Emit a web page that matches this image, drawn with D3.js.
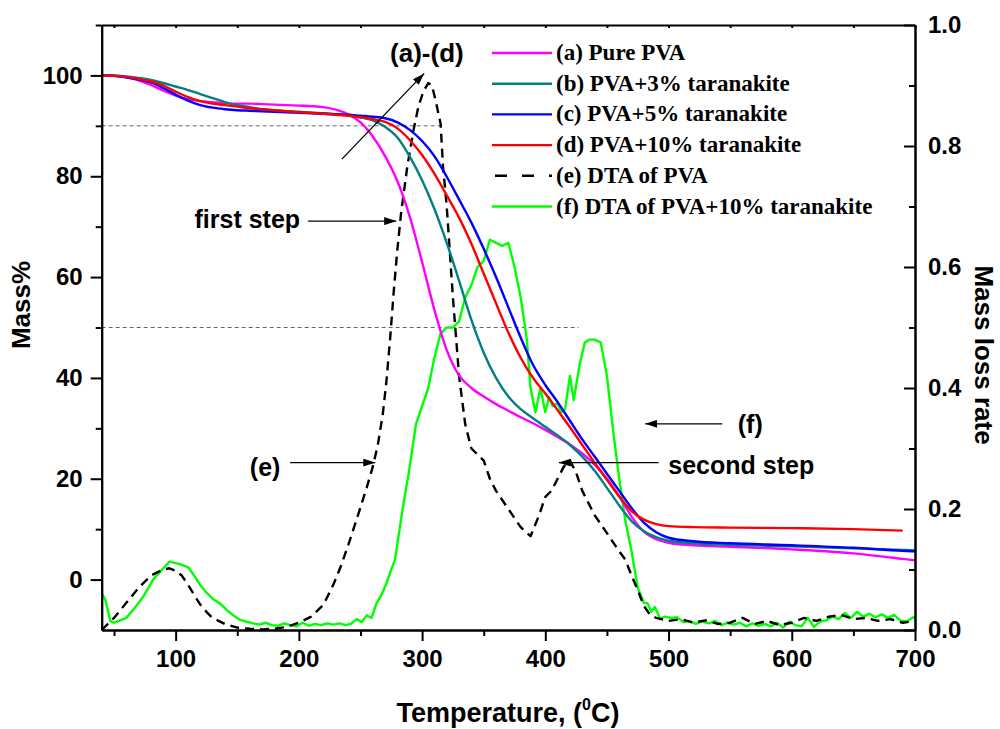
<!DOCTYPE html>
<html>
<head>
<meta charset="utf-8">
<script src="https://cdn.jsdelivr.net/npm/d3@7"></script>
<style>
  body { margin: 0; background: #fff; }
  text { font-family: "Liberation Sans", Arial, sans-serif; font-weight: bold; }
</style>
</head>
<body>
<svg id="chart" width="1000" height="729"></svg>
<script>
// ---- data ----
const tgaTemp = [40,50,60,70,80,90,100,110,120,130,140,150,160,170,180,190,200,210,220,230,240,250,260,270,280,290,300,310,320,330,340,350,360,370,380,390,400,410,420,430,440,450,460,470,480,490,500,520,550,600,650,690,700];
const massPurePVA = [100,99.9,99.6,99.0,98.1,97.0,96.0,95.3,94.9,94.7,94.5,94.4,94.4,94.3,94.2,94.1,94.0,93.9,93.7,93.2,92.3,90.7,87.9,84.0,79.0,72.0,63.0,53.5,45.5,40.5,38.0,36.3,34.8,33.5,32.2,31.0,29.7,28.3,26.8,25.0,22.8,20.0,16.5,12.5,9.5,8.0,7.3,6.8,6.5,6.0,5.2,4.1,3.8];
const massPVA3 = [100,100,99.8,99.5,99.1,98.5,97.8,97.1,96.3,95.5,94.7,94.1,93.7,93.3,93.1,92.9,92.8,92.6,92.5,92.3,92.1,91.7,91.1,89.8,87.7,83.9,79.2,73.5,66.8,59.3,51.5,45.0,40.0,36.3,33.8,32.0,30.3,28.6,26.7,24.4,21.6,18.2,14.7,11.6,9.6,8.4,7.7,7.2,6.9,6.6,6.2,5.9,5.8];
const massPVA5 = [100,99.9,99.6,99.2,98.6,97.5,96.2,95.0,94.1,93.6,93.3,93.1,93.0,92.9,92.8,92.7,92.6,92.5,92.4,92.3,92.2,92.0,91.8,91.5,90.7,89.2,87.0,84.0,79.9,75.4,70.8,65.6,60.0,54.0,48.0,42.6,38.6,35.2,31.5,27.8,24.4,21.0,17.6,14.2,11.3,9.4,8.3,7.6,7.2,6.8,6.3,5.7,5.6];
const massPVA10 = [100,99.9,99.7,99.3,98.8,98.0,96.8,95.7,94.9,94.4,94.1,93.8,93.5,93.3,93.1,92.9,92.7,92.6,92.4,92.2,92.0,91.7,91.3,90.8,89.5,87.2,84.2,80.5,76.2,71.8,66.6,60.7,54.8,49.0,44.0,40.0,36.9,33.6,30.2,26.7,23.2,19.8,16.5,13.6,11.9,11.0,10.6,10.4,10.3,10.2,10.0,9.7,null];

// DTA curves: [temperature, mass loss rate]
const dtaPVA = [[40,0.0],[50,0.02],[60,0.045],[70,0.07],[80,0.09],[90,0.10],[95,0.102],[100,0.098],[105,0.09],[110,0.075],[115,0.058],[120,0.042],[125,0.03],[130,0.02],[140,0.01],[150,0.004],[160,0.002],[170,0.001],[180,0.002],[190,0.005],[200,0.012],[210,0.022],[220,0.042],[228,0.075],[234,0.105],[240,0.14],[248,0.19],[255,0.235],[260,0.27],[264,0.305],[268,0.355],[271,0.41],[274,0.48],[277,0.56],[280,0.63],[283,0.69],[288,0.766],[293,0.826],[297,0.865],[301,0.89],[305,0.904],[308,0.9],[311,0.875],[315,0.837],[317,0.766],[320,0.70],[325,0.55],[330,0.42],[335,0.34],[340,0.30],[345,0.29],[350,0.28],[355,0.25],[360,0.23],[370,0.20],[380,0.17],[388,0.155],[395,0.19],[400,0.22],[405,0.23],[410,0.25],[415,0.27],[420,0.28],[425,0.26],[430,0.23],[440,0.19],[450,0.16],[460,0.13],[465,0.116],[470,0.09],[475,0.066],[480,0.04],[485,0.025],[490,0.02],[500,0.015],[510,0.018],[520,0.012],[530,0.016],[540,0.01],[550,0.012],[560,0.02],[570,0.01],[580,0.015],[590,0.008],[600,0.012],[610,0.02],[620,0.015],[630,0.022],[640,0.025],[650,0.018],[660,0.02],[670,0.015],[680,0.018],[690,0.012],[700,0.015]];
const dtaPVA10 = [[40,0.06],[43,0.05],[47,0.015],[50,0.012],[55,0.016],[60,0.02],[65,0.032],[70,0.045],[74,0.056],[78,0.07],[82,0.084],[86,0.093],[90,0.102],[95,0.113],[101,0.11],[106,0.107],[110,0.104],[115,0.09],[120,0.074],[125,0.062],[131,0.05],[136,0.044],[142,0.032],[147,0.024],[152,0.017],[157,0.014],[163,0.011],[168,0.009],[173,0.012],[178,0.008],[183,0.007],[188,0.011],[193,0.008],[198,0.006],[203,0.012],[208,0.007],[213,0.01],[218,0.008],[223,0.011],[228,0.009],[233,0.011],[238,0.008],[242,0.01],[247,0.018],[251,0.013],[255,0.024],[259,0.02],[263,0.044],[267,0.058],[271,0.077],[275,0.1],[278,0.116],[282,0.17],[285,0.21],[290,0.27],[295,0.34],[300,0.37],[305,0.40],[310,0.45],[315,0.49],[320,0.50],[325,0.50],[330,0.51],[335,0.55],[340,0.57],[345,0.60],[350,0.61],[355,0.645],[360,0.64],[365,0.635],[370,0.64],[375,0.60],[380,0.55],[385,0.48],[388,0.40],[392,0.36],[396,0.40],[400,0.36],[403,0.385],[406,0.37],[410,0.375],[413,0.36],[416,0.365],[420,0.42],[423,0.38],[428,0.44],[432,0.475],[436,0.48],[440,0.48],[445,0.475],[450,0.42],[455,0.33],[460,0.25],[465,0.18],[470,0.13],[475,0.07],[480,0.045],[483,0.044],[486,0.03],[489,0.038],[493,0.019],[497,0.022],[502,0.02],[507,0.021],[512,0.013],[517,0.015],[522,0.01],[527,0.014],[533,0.011],[538,0.015],[543,0.008],[548,0.012],[553,0.009],[558,0.012],[563,0.006],[568,0.011],[573,0.007],[578,0.01],[583,0.006],[588,0.012],[593,0.004],[598,0.014],[603,0.008],[608,0.006],[613,0.02],[618,0.005],[623,0.014],[628,0.016],[633,0.022],[638,0.018],[643,0.028],[648,0.02],[653,0.03],[658,0.022],[663,0.027],[668,0.021],[673,0.026],[678,0.02],[683,0.025],[688,0.016],[693,0.014],[698,0.02],[700,0.022]];

const xMajor = [100,200,300,400,500,600,700];
const xMinor = [50,150,250,350,450,550,650];
const massMajor = [0,20,40,60,80,100];
const massMinor = [10,30,50,70,90,110];
const rateMajor = [0,0.2,0.4,0.6,0.8,1.0];
const rateMinor = [0.1,0.3,0.5,0.7,0.9];

const tgaSeries = [
  { label: '(a) Pure PVA', values: massPurePVA, color: '#ff00ff' },
  { label: '(b) PVA+3% taranakite', values: massPVA3, color: '#008080' },
  { label: '(c) PVA+5% taranakite', values: massPVA5, color: '#0000ff' },
  { label: '(d) PVA+10% taranakite', values: massPVA10, color: '#ff0000' }
];
const dtaSeries = [
  { label: '(e) DTA of PVA', values: dtaPVA, color: '#000000', dash: '9,6' },
  { label: '(f) DTA of PVA+10% taranakite', values: dtaPVA10, color: '#00ff00', dash: null }
];

// ---- layout ----
const svg = d3.select('#chart');
const plotLeft = 101.7, plotRight = 915, plotTop = 25, plotBottom = 630;

const x = d3.scaleLinear().domain([40, 700]).range([plotLeft, plotRight]);
const yMass = d3.scaleLinear().domain([-10, 110]).range([plotBottom, plotTop]);
const yRate = d3.scaleLinear().domain([0, 1]).range([plotBottom, plotTop]);

// reference dashed guides
const guides = [[90, 317], [50, 427]];
guides.forEach(([m, tEnd]) => {
  svg.append('line')
    .attr('x1', x(40)).attr('x2', x(tEnd))
    .attr('y1', yMass(m)).attr('y2', yMass(m))
    .attr('stroke', '#666').attr('stroke-width', 1).attr('stroke-dasharray', '4,3');
});

// DTA curves (drawn under the TGA curves)
const rateLine = d3.line().x(d => x(d[0])).y(d => yRate(d[1]));
dtaSeries.slice().reverse().forEach(s => {
  svg.append('path')
    .attr('d', rateLine(s.values))
    .attr('fill', 'none')
    .attr('stroke', s.color)
    .attr('stroke-width', 2.4)
    .attr('stroke-dasharray', s.dash)
    .attr('stroke-linejoin', 'round');
});

// TGA curves
const massLine = d3.line()
  .defined(d => d[1] != null)
  .x(d => x(d[0])).y(d => yMass(d[1]))
  .curve(d3.curveMonotoneX);
tgaSeries.forEach(s => {
  svg.append('path')
    .attr('d', massLine(tgaTemp.map((t, i) => [t, s.values[i]])))
    .attr('fill', 'none')
    .attr('stroke', s.color)
    .attr('stroke-width', 2.4);
});

// ---- axes ----
function styleAxis(g) {
  g.select('.domain').attr('stroke-width', 2);
  g.selectAll('.tick line').attr('stroke-width', 2);
  g.selectAll('text').attr('font-size', 24).attr('fill', '#000')
    .style('font-family', '"Liberation Sans", Arial, sans-serif').style('font-weight', 'bold');
}

svg.append('g').attr('transform', `translate(0,${plotBottom})`)
  .call(d3.axisBottom(x).tickValues(xMajor).tickSize(11).tickSizeOuter(0).tickPadding(9))
  .call(styleAxis);
svg.append('g').attr('transform', `translate(0,${plotBottom})`)
  .call(d3.axisBottom(x).tickValues(xMinor).tickSize(6).tickSizeOuter(0).tickFormat(''))
  .call(styleAxis);

// top frame with small inward ticks
svg.append('g').attr('transform', `translate(0,${plotTop})`)
  .call(d3.axisBottom(x).tickValues(xMajor.concat(xMinor)).tickSize(3).tickSizeOuter(0).tickFormat(''))
  .call(styleAxis);

svg.append('g').attr('transform', `translate(${plotLeft},0)`)
  .call(d3.axisLeft(yMass).tickValues(massMajor).tickSize(11).tickSizeOuter(0).tickPadding(8))
  .call(styleAxis);
svg.append('g').attr('transform', `translate(${plotLeft},0)`)
  .call(d3.axisLeft(yMass).tickValues(massMinor).tickSize(6).tickSizeOuter(0).tickFormat(''))
  .call(styleAxis);

svg.append('g').attr('transform', `translate(${plotRight},0)`)
  .call(d3.axisRight(yRate).tickValues(rateMajor).tickSizeInner(-11).tickSizeOuter(0).tickPadding(13).tickFormat(d3.format('.1f')))
  .call(styleAxis);
svg.append('g').attr('transform', `translate(${plotRight},0)`)
  .call(d3.axisRight(yRate).tickValues(rateMinor).tickSizeInner(-6).tickSizeOuter(0).tickFormat(''))
  .call(styleAxis);

// axis titles
const xTitle = svg.append('text')
  .attr('x', 508).attr('y', 722).attr('text-anchor', 'middle').attr('font-size', 27);
xTitle.append('tspan').text('Temperature, (');
xTitle.append('tspan').attr('font-size', 16).attr('dy', -12).text('0');
xTitle.append('tspan').attr('dy', 12).text('C)');

svg.append('text')
  .attr('transform', 'translate(30,305) rotate(-90)')
  .attr('text-anchor', 'middle').attr('font-size', 26).text('Mass%');

svg.append('text')
  .attr('transform', 'translate(975,355) rotate(90)')
  .attr('text-anchor', 'middle').attr('font-size', 26).text('Mass loss rate');

// ---- legend ----
const legend = svg.append('g').attr('transform', 'translate(492,53)');
tgaSeries.concat(dtaSeries).forEach((s, i) => {
  const row = legend.append('g').attr('transform', `translate(0,${i * 30.7})`);
  row.append('line')
    .attr('x1', s.dash ? 3 : 0).attr('x2', 60).attr('y1', 0).attr('y2', 0)
    .attr('stroke', s.color).attr('stroke-width', 2.4)
    .attr('stroke-dasharray', s.dash ? '12,15' : null);
  row.append('text')
    .attr('x', 64).attr('y', 7)
    .style('font-family', '"Liberation Serif", "Times New Roman", serif')
    .attr('font-size', 23)
    .text(s.label);
});

// ---- annotations ----
svg.append('defs').append('marker')
  .attr('id', 'arrow').attr('viewBox', '0 0 12 8')
  .attr('refX', 12).attr('refY', 4)
  .attr('markerWidth', 12).attr('markerHeight', 8)
  .attr('markerUnits', 'userSpaceOnUse')
  .attr('orient', 'auto')
  .append('path').attr('d', 'M0,0 L12,4 L0,8 Z').attr('fill', '#000');

function arrow(t1, m1, t2, m2) {
  svg.append('line')
    .attr('x1', x(t1)).attr('y1', yMass(m1))
    .attr('x2', x(t2)).attr('y2', yMass(m2))
    .attr('stroke', '#000').attr('stroke-width', 1.3)
    .attr('marker-end', 'url(#arrow)');
}
function label(t, m, txt, anchor, size) {
  svg.append('text')
    .attr('x', x(t)).attr('y', yMass(m))
    .attr('text-anchor', anchor).attr('font-size', size)
    .text(txt);
}

arrow(234.9, 83.4, 301.7, 100.4);
label(303.9, 102.6, '(a)-(d)', 'middle', 26);

arrow(207.5, 71.1, 279, 71.1);
label(201, 69.7, 'first step', 'end', 25);

arrow(192.9, 23.2, 262, 23.2);
label(172.6, 20.6, '(e)', 'middle', 25);

arrow(543.6, 30.9, 481.1, 30.9);
label(566.3, 29.1, '(f)', 'middle', 25);

arrow(492, 23.2, 411, 23.2);
label(499.8, 21, 'second step', 'start', 25);
</script>
</body>
</html>
